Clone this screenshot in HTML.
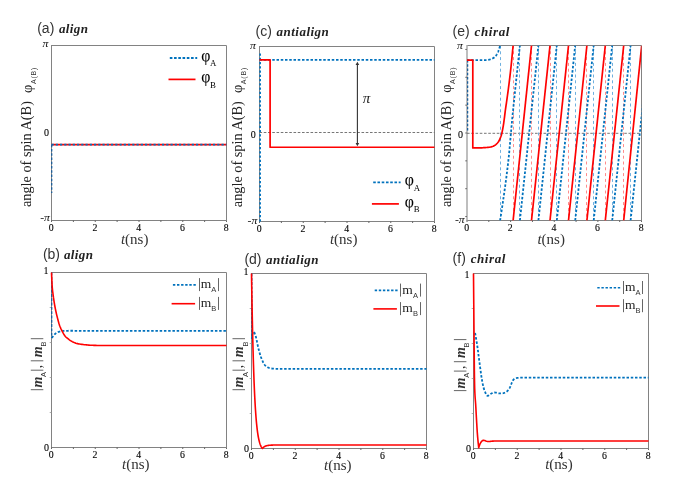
<!DOCTYPE html>
<html><head><meta charset="utf-8"><title>fig</title>
<style>html,body{margin:0;padding:0;background:#fff;}body{width:698px;height:485px;overflow:hidden;font-family:"Liberation Serif",serif;}svg{display:block;will-change:transform;opacity:0.999;}</style>
</head><body>
<svg width="698" height="485" viewBox="0 0 698 485">
<rect width="698" height="485" fill="#fff"/>
<text x="37.2" y="32.8" font-family="Liberation Sans, sans-serif" font-size="14" fill="#333">(a)</text>
<text x="58.9" y="32.8" font-family="Liberation Serif, serif" font-weight="bold" font-style="italic" font-size="13" fill="#222" textLength="29" lengthAdjust="spacing">align</text>
<path d="M51.5,220.5 H226.5 V45.5 H51.5" fill="none" stroke="#828282" stroke-width="1"/>
<line x1="51.5" y1="45.0" x2="51.5" y2="221.0" stroke="#828282" stroke-width="1"/>
<line x1="51.50" y1="220.5" x2="51.50" y2="222.0" stroke="#555" stroke-width="0.9"/>
<line x1="73.38" y1="220.5" x2="73.38" y2="222.0" stroke="#555" stroke-width="0.9"/>
<line x1="95.25" y1="220.5" x2="95.25" y2="222.0" stroke="#555" stroke-width="0.9"/>
<line x1="117.12" y1="220.5" x2="117.12" y2="222.0" stroke="#555" stroke-width="0.9"/>
<line x1="139.00" y1="220.5" x2="139.00" y2="222.0" stroke="#555" stroke-width="0.9"/>
<line x1="160.88" y1="220.5" x2="160.88" y2="222.0" stroke="#555" stroke-width="0.9"/>
<line x1="182.75" y1="220.5" x2="182.75" y2="222.0" stroke="#555" stroke-width="0.9"/>
<line x1="204.62" y1="220.5" x2="204.62" y2="222.0" stroke="#555" stroke-width="0.9"/>
<line x1="226.50" y1="220.5" x2="226.50" y2="222.0" stroke="#555" stroke-width="0.9"/>
<text x="51.10" y="230.5" font-family="Liberation Serif, serif" font-size="9.8" text-anchor="middle" fill="#000" stroke="#000" stroke-width="0.12">0</text>
<text x="94.85" y="230.5" font-family="Liberation Serif, serif" font-size="9.8" text-anchor="middle" fill="#000" stroke="#000" stroke-width="0.12">2</text>
<text x="138.60" y="230.5" font-family="Liberation Serif, serif" font-size="9.8" text-anchor="middle" fill="#000" stroke="#000" stroke-width="0.12">4</text>
<text x="182.35" y="230.5" font-family="Liberation Serif, serif" font-size="9.8" text-anchor="middle" fill="#000" stroke="#000" stroke-width="0.12">6</text>
<text x="226.10" y="230.5" font-family="Liberation Serif, serif" font-size="9.8" text-anchor="middle" fill="#000" stroke="#000" stroke-width="0.12">8</text>
<text x="48.5" y="47.0" font-family="Liberation Serif, serif" font-size="10" font-style="italic" text-anchor="end" fill="#111" textLength="5.9" lengthAdjust="spacingAndGlyphs">π</text>
<text x="50.0" y="221.0" font-family="Liberation Serif, serif" font-size="10" font-style="italic" text-anchor="end" fill="#111" textLength="9.8" lengthAdjust="spacingAndGlyphs">-π</text>
<text x="48.9" y="135.5" font-family="Liberation Serif, serif" font-size="10" text-anchor="end" fill="#000" stroke="#000" stroke-width="0.1">0</text>
<polyline points="51.50,144.70 226.50,144.70" fill="none" stroke="#FF0000" stroke-width="1.7" stroke-linejoin="round" />
<polyline points="51.70,144.70 51.70,193.00" fill="none" stroke="#1b5e9a" stroke-width="1.3" stroke-dasharray="2.5 1.75" stroke-linejoin="round" />
<polyline points="51.50,144.70 226.50,144.70" fill="none" stroke="#0072BD" stroke-width="1.8" stroke-dasharray="2.2 2.05" stroke-linejoin="round" />
<text x="120.9" y="243.6" font-family="Liberation Serif, serif" font-size="15" fill="#333"><tspan font-style="italic">t</tspan>(ns)</text>
<g transform="translate(31.4,207.1) rotate(-90)"><text x="0" y="0" font-family="Liberation Serif, serif" font-size="14.3" fill="#222" textLength="106" lengthAdjust="spacingAndGlyphs">angle of spin A(B)</text><text x="114.2" y="0.5" font-family="Liberation Serif, serif" font-size="14.5" fill="#222">φ</text><text x="123" y="4.3" font-family="Liberation Sans, sans-serif" font-size="7" fill="#333" textLength="16.5" lengthAdjust="spacing">A(B)</text></g>
<line x1="169.8" y1="58" x2="197.2" y2="58" stroke="#0072BD" stroke-width="1.8" stroke-dasharray="2.6 1.65"/>
<line x1="168.5" y1="79.4" x2="195.5" y2="79.4" stroke="#FF0000" stroke-width="1.7"/>
<text x="201.2" y="61.0" font-family="Liberation Serif, serif" font-size="15.8" fill="#000" stroke="#000" stroke-width="0.1">φ<tspan font-size="8.8" dy="5.2" dx="-0.3" stroke="none">A</tspan></text>
<text x="201.2" y="82.4" font-family="Liberation Serif, serif" font-size="15.8" fill="#000" stroke="#000" stroke-width="0.1">φ<tspan font-size="8.8" dy="5.2" dx="-0.3" stroke="none">B</tspan></text>
<text x="255.5" y="35.8" font-family="Liberation Sans, sans-serif" font-size="14" fill="#333">(c)</text>
<text x="276.5" y="35.8" font-family="Liberation Serif, serif" font-weight="bold" font-style="italic" font-size="13" fill="#222" textLength="52.3" lengthAdjust="spacing">antialign</text>
<path d="M259.5,221.5 H434.5 V46.5 H259.5" fill="none" stroke="#828282" stroke-width="1"/>
<line x1="259.5" y1="46.0" x2="259.5" y2="222.0" stroke="#828282" stroke-width="1"/>
<line x1="259.50" y1="221.5" x2="259.50" y2="223.0" stroke="#555" stroke-width="0.9"/>
<line x1="281.38" y1="221.5" x2="281.38" y2="223.0" stroke="#555" stroke-width="0.9"/>
<line x1="303.25" y1="221.5" x2="303.25" y2="223.0" stroke="#555" stroke-width="0.9"/>
<line x1="325.12" y1="221.5" x2="325.12" y2="223.0" stroke="#555" stroke-width="0.9"/>
<line x1="347.00" y1="221.5" x2="347.00" y2="223.0" stroke="#555" stroke-width="0.9"/>
<line x1="368.88" y1="221.5" x2="368.88" y2="223.0" stroke="#555" stroke-width="0.9"/>
<line x1="390.75" y1="221.5" x2="390.75" y2="223.0" stroke="#555" stroke-width="0.9"/>
<line x1="412.62" y1="221.5" x2="412.62" y2="223.0" stroke="#555" stroke-width="0.9"/>
<line x1="434.50" y1="221.5" x2="434.50" y2="223.0" stroke="#555" stroke-width="0.9"/>
<text x="259.10" y="231.5" font-family="Liberation Serif, serif" font-size="9.8" text-anchor="middle" fill="#000" stroke="#000" stroke-width="0.12">0</text>
<text x="302.85" y="231.5" font-family="Liberation Serif, serif" font-size="9.8" text-anchor="middle" fill="#000" stroke="#000" stroke-width="0.12">2</text>
<text x="346.60" y="231.5" font-family="Liberation Serif, serif" font-size="9.8" text-anchor="middle" fill="#000" stroke="#000" stroke-width="0.12">4</text>
<text x="390.35" y="231.5" font-family="Liberation Serif, serif" font-size="9.8" text-anchor="middle" fill="#000" stroke="#000" stroke-width="0.12">6</text>
<text x="434.10" y="231.5" font-family="Liberation Serif, serif" font-size="9.8" text-anchor="middle" fill="#000" stroke="#000" stroke-width="0.12">8</text>
<text x="255.9" y="49.1" font-family="Liberation Serif, serif" font-size="10" font-style="italic" text-anchor="end" fill="#111" textLength="5.9" lengthAdjust="spacingAndGlyphs">π</text>
<text x="257.3" y="223.6" font-family="Liberation Serif, serif" font-size="10" font-style="italic" text-anchor="end" fill="#111" textLength="9.8" lengthAdjust="spacingAndGlyphs">-π</text>
<text x="255.79999999999998" y="138.4" font-family="Liberation Serif, serif" font-size="10" text-anchor="end" fill="#000" stroke="#000" stroke-width="0.1">0</text>
<line x1="259.5" y1="132.5" x2="434.5" y2="132.5" stroke="#666" stroke-width="0.9" stroke-dasharray="2.6 1.65"/>
<polyline points="260.10,221.50 260.10,53.00" fill="none" stroke="#0072BD" stroke-width="1.7" stroke-dasharray="2.15 2.1" stroke-linejoin="round" />
<polyline points="259.50,59.90 434.50,59.90" fill="none" stroke="#0072BD" stroke-width="1.8" stroke-dasharray="2.5 1.75" stroke-linejoin="round" />
<polyline points="259.50,59.90 270.10,59.90 270.10,147.25 434.50,147.25" fill="none" stroke="#FF0000" stroke-width="1.7" stroke-linejoin="round" stroke-linejoin="miter"/>
<text x="329.9" y="244" font-family="Liberation Serif, serif" font-size="15" fill="#333"><tspan font-style="italic">t</tspan>(ns)</text>
<g transform="translate(241.5,207.2) rotate(-90)"><text x="0" y="0" font-family="Liberation Serif, serif" font-size="14.3" fill="#222" textLength="106" lengthAdjust="spacingAndGlyphs">angle of spin A(B)</text><text x="114.2" y="0.5" font-family="Liberation Serif, serif" font-size="14.5" fill="#222">φ</text><text x="123" y="4.3" font-family="Liberation Sans, sans-serif" font-size="7" fill="#333" textLength="16.5" lengthAdjust="spacing">A(B)</text></g>
<line x1="373.2" y1="182.3" x2="400.59999999999997" y2="182.3" stroke="#0072BD" stroke-width="1.8" stroke-dasharray="2.6 1.65"/>
<line x1="371.9" y1="203.9" x2="398.9" y2="203.9" stroke="#FF0000" stroke-width="1.7"/>
<text x="404.8" y="185.3" font-family="Liberation Serif, serif" font-size="15.8" fill="#000" stroke="#000" stroke-width="0.1">φ<tspan font-size="8.8" dy="5.2" dx="-0.3" stroke="none">A</tspan></text>
<text x="404.8" y="206.9" font-family="Liberation Serif, serif" font-size="15.8" fill="#000" stroke="#000" stroke-width="0.1">φ<tspan font-size="8.8" dy="5.2" dx="-0.3" stroke="none">B</tspan></text>
<line x1="357.4" y1="63.5" x2="357.4" y2="144.5" stroke="#333" stroke-width="1.1"/>
<path d="M357.4,61.8 L355.6,65 L359.2,65 Z" fill="#333"/>
<path d="M357.4,146.2 L355.6,143 L359.2,143 Z" fill="#333"/>
<text x="362.8" y="102.8" font-family="Liberation Serif, serif" font-size="15" font-style="italic" fill="#222">π</text>
<text x="452.59999999999997" y="36.1" font-family="Liberation Sans, sans-serif" font-size="14" fill="#333">(e)</text>
<text x="474.6" y="36.1" font-family="Liberation Serif, serif" font-weight="bold" font-style="italic" font-size="13" fill="#222" textLength="34.8" lengthAdjust="spacing">chiral</text>
<path d="M467,220.5 H641.5 V45.5 H467" fill="none" stroke="#828282" stroke-width="1"/>
<line x1="467" y1="45.0" x2="467" y2="221.0" stroke="#a8a8a8" stroke-width="1.5"/>
<line x1="467.00" y1="220.5" x2="467.00" y2="222.0" stroke="#555" stroke-width="0.9"/>
<line x1="488.81" y1="220.5" x2="488.81" y2="222.0" stroke="#555" stroke-width="0.9"/>
<line x1="510.62" y1="220.5" x2="510.62" y2="222.0" stroke="#555" stroke-width="0.9"/>
<line x1="532.44" y1="220.5" x2="532.44" y2="222.0" stroke="#555" stroke-width="0.9"/>
<line x1="554.25" y1="220.5" x2="554.25" y2="222.0" stroke="#555" stroke-width="0.9"/>
<line x1="576.06" y1="220.5" x2="576.06" y2="222.0" stroke="#555" stroke-width="0.9"/>
<line x1="597.88" y1="220.5" x2="597.88" y2="222.0" stroke="#555" stroke-width="0.9"/>
<line x1="619.69" y1="220.5" x2="619.69" y2="222.0" stroke="#555" stroke-width="0.9"/>
<line x1="641.50" y1="220.5" x2="641.50" y2="222.0" stroke="#555" stroke-width="0.9"/>
<text x="466.60" y="230.5" font-family="Liberation Serif, serif" font-size="9.8" text-anchor="middle" fill="#000" stroke="#000" stroke-width="0.12">0</text>
<text x="510.23" y="230.5" font-family="Liberation Serif, serif" font-size="9.8" text-anchor="middle" fill="#000" stroke="#000" stroke-width="0.12">2</text>
<text x="553.85" y="230.5" font-family="Liberation Serif, serif" font-size="9.8" text-anchor="middle" fill="#000" stroke="#000" stroke-width="0.12">4</text>
<text x="597.48" y="230.5" font-family="Liberation Serif, serif" font-size="9.8" text-anchor="middle" fill="#000" stroke="#000" stroke-width="0.12">6</text>
<text x="641.10" y="230.5" font-family="Liberation Serif, serif" font-size="9.8" text-anchor="middle" fill="#000" stroke="#000" stroke-width="0.12">8</text>
<line x1="467" y1="216.56" x2="465.2" y2="216.56" stroke="#555" stroke-width="0.8"/>
<line x1="467" y1="188.70" x2="465.2" y2="188.70" stroke="#555" stroke-width="0.8"/>
<line x1="467" y1="160.85" x2="465.2" y2="160.85" stroke="#555" stroke-width="0.8"/>
<line x1="467" y1="133.00" x2="465.2" y2="133.00" stroke="#555" stroke-width="0.8"/>
<line x1="467" y1="105.15" x2="465.2" y2="105.15" stroke="#555" stroke-width="0.8"/>
<line x1="467" y1="77.30" x2="465.2" y2="77.30" stroke="#555" stroke-width="0.8"/>
<line x1="467" y1="49.44" x2="465.2" y2="49.44" stroke="#555" stroke-width="0.8"/>
<text x="463.0" y="48.5" font-family="Liberation Serif, serif" font-size="10" font-style="italic" text-anchor="end" fill="#111" textLength="5.9" lengthAdjust="spacingAndGlyphs">π</text>
<text x="464.7" y="222.7" font-family="Liberation Serif, serif" font-size="10" font-style="italic" text-anchor="end" fill="#111" textLength="9.8" lengthAdjust="spacingAndGlyphs">-π</text>
<text x="463.0" y="137.8" font-family="Liberation Serif, serif" font-size="10" text-anchor="end" fill="#000" stroke="#000" stroke-width="0.1">0</text>
<clipPath id="ce"><rect x="467" y="45.5" width="174.5" height="175.0"/></clipPath>
<g clip-path="url(#ce)">
<line x1="467" y1="133.3" x2="641.5" y2="133.3" stroke="#666" stroke-width="0.9" stroke-dasharray="2.6 1.65"/>
<line x1="513.5" y1="45.5" x2="513.5" y2="220.5" stroke="#ff8c8c" stroke-width="1" stroke-dasharray="3 2.8"/>
<line x1="531.5" y1="45.5" x2="531.5" y2="220.5" stroke="#ff8c8c" stroke-width="1" stroke-dasharray="3 2.8"/>
<line x1="550.5" y1="45.5" x2="550.5" y2="220.5" stroke="#ff8c8c" stroke-width="1" stroke-dasharray="3 2.8"/>
<line x1="568.5" y1="45.5" x2="568.5" y2="220.5" stroke="#ff8c8c" stroke-width="1" stroke-dasharray="3 2.8"/>
<line x1="586.5" y1="45.5" x2="586.5" y2="220.5" stroke="#ff8c8c" stroke-width="1" stroke-dasharray="3 2.8"/>
<line x1="605.5" y1="45.5" x2="605.5" y2="220.5" stroke="#ff8c8c" stroke-width="1" stroke-dasharray="3 2.8"/>
<line x1="623.5" y1="45.5" x2="623.5" y2="220.5" stroke="#ff8c8c" stroke-width="1" stroke-dasharray="3 2.8"/>
<line x1="500.5" y1="45.5" x2="500.5" y2="220.5" stroke="#6fb0df" stroke-width="1" stroke-dasharray="3 2.8"/>
<line x1="519.5" y1="45.5" x2="519.5" y2="220.5" stroke="#6fb0df" stroke-width="1" stroke-dasharray="3 2.8"/>
<line x1="538.5" y1="45.5" x2="538.5" y2="220.5" stroke="#6fb0df" stroke-width="1" stroke-dasharray="3 2.8"/>
<line x1="556.5" y1="45.5" x2="556.5" y2="220.5" stroke="#6fb0df" stroke-width="1" stroke-dasharray="3 2.8"/>
<line x1="575.5" y1="45.5" x2="575.5" y2="220.5" stroke="#6fb0df" stroke-width="1" stroke-dasharray="3 2.8"/>
<line x1="593.5" y1="45.5" x2="593.5" y2="220.5" stroke="#6fb0df" stroke-width="1" stroke-dasharray="3 2.8"/>
<line x1="612.5" y1="45.5" x2="612.5" y2="220.5" stroke="#6fb0df" stroke-width="1" stroke-dasharray="3 2.8"/>
<line x1="630.5" y1="45.5" x2="630.5" y2="220.5" stroke="#6fb0df" stroke-width="1" stroke-dasharray="3 2.8"/>
<polyline points="467.60,60.10 467.60,131.00" fill="none" stroke="#1b5e9a" stroke-width="1.3" stroke-dasharray="2.5 1.75" stroke-linejoin="round" />
<polyline points="467.00,60.10 487.00,60.10 487.28,60.04 487.64,59.96 488.07,59.87 488.56,59.77 489.07,59.65 489.59,59.52 490.11,59.37 490.60,59.20 491.08,59.02 491.58,58.83 492.10,58.63 492.61,58.41 493.12,58.17 493.61,57.90 494.07,57.62 494.50,57.30 494.89,56.95 495.26,56.57 495.61,56.16 495.94,55.72 496.25,55.28 496.54,54.82 496.83,54.36 497.10,53.90 497.36,53.44 497.60,52.97 497.82,52.50 498.03,52.02 498.23,51.53 498.42,51.03 498.61,50.52 498.80,50.00 498.99,49.44 499.18,48.81 499.37,48.16 499.56,47.51 499.73,46.88 499.88,46.32 500.00,45.85 500.10,45.50" fill="none" stroke="#0072BD" stroke-width="1.8" stroke-dasharray="2.5 1.75" stroke-linejoin="round" />
<polyline points="500.10,220.50 500.34,218.92 500.66,216.80 501.05,214.29 501.48,211.50 501.92,208.55 502.37,205.57 502.81,202.68 503.20,200.00 503.56,197.50 503.92,195.04 504.27,192.60 504.62,190.16 504.97,187.70 505.31,185.20 505.65,182.64 506.00,180.00 506.35,177.27 506.71,174.48 507.06,171.62 507.42,168.72 507.76,165.80 508.11,162.86 508.44,159.92 508.75,157.00 509.05,154.04 509.34,151.02 509.62,147.97 509.89,144.91 510.15,141.90 510.41,138.95 510.66,136.11 510.90,133.40 511.12,130.93 511.32,128.71 511.51,126.63 511.69,124.60 511.88,122.52 512.09,120.29 512.32,117.82 512.60,115.00 512.91,111.87 513.25,108.54 513.61,105.02 513.99,101.32 514.40,97.46 514.81,93.44 515.25,89.28 515.70,85.00 516.20,80.25 516.77,74.87 517.38,69.15 517.99,63.38 518.58,57.84 519.12,52.82 519.57,48.61 519.90,45.50" fill="none" stroke="#0072BD" stroke-width="1.8" stroke-dasharray="2.5 1.75" stroke-linejoin="round" />
<polyline points="519.90,220.50 538.40,45.50" fill="none" stroke="#0072BD" stroke-width="1.8" stroke-dasharray="2.5 1.75" stroke-linejoin="round" />
<polyline points="538.40,220.50 556.80,45.50" fill="none" stroke="#0072BD" stroke-width="1.8" stroke-dasharray="2.5 1.75" stroke-linejoin="round" />
<polyline points="556.80,220.50 575.20,45.50" fill="none" stroke="#0072BD" stroke-width="1.8" stroke-dasharray="2.5 1.75" stroke-linejoin="round" />
<polyline points="575.20,220.50 593.70,45.50" fill="none" stroke="#0072BD" stroke-width="1.8" stroke-dasharray="2.5 1.75" stroke-linejoin="round" />
<polyline points="593.70,220.50 612.20,45.50" fill="none" stroke="#0072BD" stroke-width="1.8" stroke-dasharray="2.5 1.75" stroke-linejoin="round" />
<polyline points="612.20,220.50 630.60,45.50" fill="none" stroke="#0072BD" stroke-width="1.8" stroke-dasharray="2.5 1.75" stroke-linejoin="round" />
<polyline points="630.60,220.50 649.05,45.50" fill="none" stroke="#0072BD" stroke-width="1.8" stroke-dasharray="2.5 1.75" stroke-linejoin="round" />
<polyline points="467.00,60.10 472.80,60.10 472.80,147.90 473.20,147.90 473.72,147.89 474.35,147.89 475.05,147.88 475.79,147.88 476.55,147.87 477.30,147.86 478.00,147.85 478.67,147.84 479.34,147.83 480.01,147.83 480.69,147.82 481.38,147.80 482.09,147.78 482.83,147.75 483.60,147.70 484.43,147.65 485.31,147.59 486.24,147.52 487.18,147.45 488.11,147.36 489.01,147.26 489.84,147.14 490.60,147.00 491.27,146.85 491.88,146.69 492.45,146.51 492.97,146.32 493.46,146.11 493.94,145.88 494.42,145.61 494.90,145.30 495.39,144.95 495.86,144.57 496.33,144.15 496.79,143.71 497.23,143.25 497.64,142.77 498.03,142.29 498.40,141.80 498.73,141.30 499.04,140.78 499.33,140.24 499.59,139.69 499.83,139.13 500.06,138.58 500.29,138.03 500.50,137.50 500.70,137.00 500.88,136.53 501.04,136.08 501.19,135.62 501.34,135.15 501.49,134.63 501.64,134.05 501.80,133.40 501.97,132.65 502.15,131.83 502.34,130.94 502.52,130.02 502.70,129.07 502.88,128.12 503.04,127.19 503.20,126.30 503.34,125.45 503.47,124.64 503.60,123.85 503.71,123.05 503.83,122.23 503.95,121.38 504.07,120.48 504.20,119.50 504.34,118.44 504.48,117.30 504.63,116.11 504.78,114.89 504.93,113.64 505.09,112.40 505.24,111.18 505.40,110.00 505.55,108.91 505.69,107.90 505.84,106.94 505.98,105.97 506.13,104.94 506.30,103.80 506.49,102.50 506.70,101.00 506.94,99.26 507.21,97.34 507.50,95.25 507.80,93.06 508.11,90.80 508.42,88.51 508.72,86.23 509.00,84.00 509.27,81.81 509.54,79.63 509.81,77.43 510.07,75.22 510.33,72.98 510.59,70.70 510.84,68.38 511.10,66.00 511.37,63.42 511.65,60.57 511.95,57.59 512.23,54.62 512.50,51.80 512.74,49.24 512.95,47.10 513.10,45.50" fill="none" stroke="#FF0000" stroke-width="1.7" stroke-linejoin="round" stroke-linejoin="miter"/>
<polyline points="513.10,220.50 531.50,45.50" fill="none" stroke="#FF0000" stroke-width="1.7" stroke-linejoin="round" />
<polyline points="531.50,220.50 550.00,45.50" fill="none" stroke="#FF0000" stroke-width="1.7" stroke-linejoin="round" />
<polyline points="550.00,220.50 568.50,45.50" fill="none" stroke="#FF0000" stroke-width="1.7" stroke-linejoin="round" />
<polyline points="568.50,220.50 586.90,45.50" fill="none" stroke="#FF0000" stroke-width="1.7" stroke-linejoin="round" />
<polyline points="586.90,220.50 605.30,45.50" fill="none" stroke="#FF0000" stroke-width="1.7" stroke-linejoin="round" />
<polyline points="605.30,220.50 623.70,45.50" fill="none" stroke="#FF0000" stroke-width="1.7" stroke-linejoin="round" />
<polyline points="623.70,220.50 641.70,45.50" fill="none" stroke="#FF0000" stroke-width="1.7" stroke-linejoin="round" />
</g>
<text x="537.4" y="243.7" font-family="Liberation Serif, serif" font-size="15" fill="#333"><tspan font-style="italic">t</tspan>(ns)</text>
<g transform="translate(450.7,207) rotate(-90)"><text x="0" y="0" font-family="Liberation Serif, serif" font-size="14.3" fill="#222" textLength="106" lengthAdjust="spacingAndGlyphs">angle of spin A(B)</text><text x="114.2" y="0.5" font-family="Liberation Serif, serif" font-size="14.5" fill="#222">φ</text><text x="123" y="4.3" font-family="Liberation Sans, sans-serif" font-size="7" fill="#333" textLength="16.5" lengthAdjust="spacing">A(B)</text></g>
<text x="42.900000000000006" y="259" font-family="Liberation Sans, sans-serif" font-size="14" fill="#333">(b)</text>
<text x="63.9" y="259" font-family="Liberation Serif, serif" font-weight="bold" font-style="italic" font-size="13" fill="#222" textLength="29" lengthAdjust="spacing">align</text>
<path d="M51.5,447.5 H226.5 V272.5 H51.5" fill="none" stroke="#828282" stroke-width="1"/>
<line x1="51.5" y1="272.0" x2="51.5" y2="448.0" stroke="#828282" stroke-width="1"/>
<line x1="51.50" y1="447.5" x2="51.50" y2="449.0" stroke="#555" stroke-width="0.9"/>
<line x1="73.38" y1="447.5" x2="73.38" y2="449.0" stroke="#555" stroke-width="0.9"/>
<line x1="95.25" y1="447.5" x2="95.25" y2="449.0" stroke="#555" stroke-width="0.9"/>
<line x1="117.12" y1="447.5" x2="117.12" y2="449.0" stroke="#555" stroke-width="0.9"/>
<line x1="139.00" y1="447.5" x2="139.00" y2="449.0" stroke="#555" stroke-width="0.9"/>
<line x1="160.88" y1="447.5" x2="160.88" y2="449.0" stroke="#555" stroke-width="0.9"/>
<line x1="182.75" y1="447.5" x2="182.75" y2="449.0" stroke="#555" stroke-width="0.9"/>
<line x1="204.62" y1="447.5" x2="204.62" y2="449.0" stroke="#555" stroke-width="0.9"/>
<line x1="226.50" y1="447.5" x2="226.50" y2="449.0" stroke="#555" stroke-width="0.9"/>
<text x="51.10" y="457.5" font-family="Liberation Serif, serif" font-size="9.8" text-anchor="middle" fill="#000" stroke="#000" stroke-width="0.12">0</text>
<text x="94.85" y="457.5" font-family="Liberation Serif, serif" font-size="9.8" text-anchor="middle" fill="#000" stroke="#000" stroke-width="0.12">2</text>
<text x="138.60" y="457.5" font-family="Liberation Serif, serif" font-size="9.8" text-anchor="middle" fill="#000" stroke="#000" stroke-width="0.12">4</text>
<text x="182.35" y="457.5" font-family="Liberation Serif, serif" font-size="9.8" text-anchor="middle" fill="#000" stroke="#000" stroke-width="0.12">6</text>
<text x="226.10" y="457.5" font-family="Liberation Serif, serif" font-size="9.8" text-anchor="middle" fill="#000" stroke="#000" stroke-width="0.12">8</text>
<line x1="51.5" y1="412.50" x2="49.7" y2="412.50" stroke="#999" stroke-width="0.8"/>
<line x1="51.5" y1="377.50" x2="49.7" y2="377.50" stroke="#999" stroke-width="0.8"/>
<line x1="51.5" y1="342.50" x2="49.7" y2="342.50" stroke="#999" stroke-width="0.8"/>
<line x1="51.5" y1="307.50" x2="49.7" y2="307.50" stroke="#999" stroke-width="0.8"/>
<text x="48.4" y="274.3" font-family="Liberation Serif, serif" font-size="10" text-anchor="end" fill="#000" stroke="#000" stroke-width="0.1">1</text>
<text x="49.0" y="450.5" font-family="Liberation Serif, serif" font-size="10" text-anchor="end" fill="#000" stroke="#000" stroke-width="0.1">0</text>
<polyline points="51.70,272.50 51.70,338.00" fill="none" stroke="#1b5e9a" stroke-width="1.3" stroke-dasharray="2.9 1.4" stroke-linejoin="round" />
<polyline points="51.80,338.00 51.96,337.76 52.18,337.45 52.43,337.07 52.71,336.65 53.02,336.21 53.34,335.78 53.67,335.37 54.00,335.00 54.33,334.66 54.67,334.33 55.02,334.01 55.39,333.69 55.77,333.39 56.16,333.11 56.57,332.84 57.00,332.60 57.44,332.38 57.89,332.18 58.36,332.00 58.84,331.83 59.34,331.68 59.86,331.54 60.42,331.42 61.00,331.30 61.57,331.20 62.10,331.11 62.64,331.03 63.21,330.97 63.86,330.92 64.61,330.87 65.52,330.83 66.60,330.80 67.99,330.78 69.72,330.76 71.64,330.76 73.65,330.77 75.61,330.78 77.41,330.79 78.91,330.80 80.00,330.80 226.50,330.80" fill="none" stroke="#0072BD" stroke-width="1.8" stroke-dasharray="2.5 1.75" stroke-linejoin="round" />
<polyline points="51.50,272.50 51.55,273.63 51.62,275.19 51.71,277.05 51.80,279.09 51.90,281.18 52.00,283.22 52.10,285.06 52.20,286.60 52.29,287.85 52.39,288.94 52.49,289.91 52.59,290.78 52.69,291.59 52.79,292.38 52.89,293.17 53.00,294.00 53.11,294.84 53.21,295.65 53.32,296.44 53.42,297.22 53.54,297.99 53.65,298.77 53.77,299.57 53.90,300.40 54.03,301.26 54.17,302.14 54.32,303.03 54.47,303.94 54.62,304.84 54.78,305.74 54.94,306.63 55.10,307.50 55.26,308.35 55.43,309.20 55.61,310.04 55.78,310.88 55.96,311.70 56.14,312.51 56.32,313.31 56.50,314.10 56.68,314.88 56.87,315.65 57.06,316.41 57.25,317.16 57.44,317.89 57.63,318.61 57.82,319.32 58.00,320.00 58.18,320.67 58.36,321.33 58.53,321.97 58.71,322.60 58.88,323.21 59.05,323.80 59.23,324.36 59.40,324.90 59.57,325.41 59.75,325.89 59.92,326.34 60.09,326.77 60.27,327.19 60.44,327.59 60.62,328.00 60.80,328.40 60.98,328.80 61.17,329.19 61.36,329.57 61.54,329.94 61.73,330.31 61.92,330.68 62.11,331.04 62.30,331.40 62.49,331.77 62.68,332.13 62.87,332.50 63.06,332.86 63.24,333.22 63.43,333.56 63.62,333.89 63.80,334.20 63.98,334.49 64.16,334.77 64.33,335.03 64.51,335.29 64.68,335.53 64.85,335.76 65.03,335.98 65.20,336.20 65.35,336.39 65.48,336.55 65.59,336.69 65.71,336.82 65.86,336.96 66.04,337.13 66.28,337.34 66.60,337.60 67.00,337.93 67.46,338.31 67.97,338.73 68.53,339.18 69.12,339.64 69.74,340.09 70.37,340.51 71.00,340.90 71.63,341.26 72.26,341.61 72.91,341.94 73.58,342.27 74.29,342.58 75.03,342.87 75.84,343.15 76.70,343.40 77.63,343.63 78.63,343.85 79.68,344.04 80.78,344.22 81.90,344.38 83.06,344.53 84.23,344.67 85.40,344.80 86.57,344.92 87.72,345.02 88.89,345.11 90.09,345.18 91.33,345.25 92.63,345.30 94.02,345.35 95.50,345.40 97.20,345.44 99.16,345.46 101.25,345.48 103.38,345.49 105.43,345.49 107.29,345.49 108.85,345.50 110.00,345.50 226.50,345.50" fill="none" stroke="#FF0000" stroke-width="1.6" stroke-linejoin="round" />
<text x="122.1" y="469.4" font-family="Liberation Serif, serif" font-size="15" fill="#333"><tspan font-style="italic">t</tspan>(ns)</text>
<g transform="translate(41.5,389.7) rotate(-90)"><line x1="0" y1="-10.7" x2="0" y2="1.8" stroke="#555" stroke-width="0.9"/><line x1="19.5" y1="-10.7" x2="19.5" y2="1.8" stroke="#555" stroke-width="0.9"/><line x1="28.9" y1="-10.7" x2="28.9" y2="1.8" stroke="#555" stroke-width="0.9"/><line x1="51" y1="-10.7" x2="51" y2="1.8" stroke="#555" stroke-width="0.9"/><text x="2.2" y="0" font-family="Liberation Serif, serif" font-size="14" font-style="italic" font-weight="bold" fill="#333">m</text><text x="12.8" y="4.6" font-family="Liberation Sans, sans-serif" font-size="7.5" fill="#333">A</text><text x="32.5" y="0" font-family="Liberation Serif, serif" font-size="14" font-style="italic" font-weight="bold" fill="#333">m</text><text x="43.1" y="4.6" font-family="Liberation Sans, sans-serif" font-size="7.5" fill="#333">B</text><text x="21.5" y="0" font-family="Liberation Serif, serif" font-size="14" fill="#222">,</text></g>
<line x1="172.9" y1="284.9" x2="196.6" y2="284.9" stroke="#0072BD" stroke-width="1.6" stroke-dasharray="2.4 1.7"/>
<line x1="171.6" y1="303.7" x2="195.1" y2="303.7" stroke="#FF0000" stroke-width="1.6"/>
<line x1="199.5" y1="278.09999999999997" x2="199.5" y2="291.09999999999997" stroke="#555" stroke-width="0.9"/>
<line x1="218.5" y1="278.09999999999997" x2="218.5" y2="291.09999999999997" stroke="#555" stroke-width="0.9"/>
<text x="200.8" y="288.09999999999997" font-family="Liberation Serif, serif" font-size="13.5" fill="#222">m</text>
<text x="211.3" y="292.29999999999995" font-family="Liberation Sans, sans-serif" font-size="7.5" fill="#333">A</text>
<line x1="199.5" y1="296.9" x2="199.5" y2="309.9" stroke="#555" stroke-width="0.9"/>
<line x1="218.5" y1="296.9" x2="218.5" y2="309.9" stroke="#555" stroke-width="0.9"/>
<text x="200.8" y="306.9" font-family="Liberation Serif, serif" font-size="13.5" fill="#222">m</text>
<text x="211.3" y="311.09999999999997" font-family="Liberation Sans, sans-serif" font-size="7.5" fill="#333">B</text>
<text x="244.39999999999998" y="264" font-family="Liberation Sans, sans-serif" font-size="14" fill="#333">(d)</text>
<text x="266.1" y="264" font-family="Liberation Serif, serif" font-weight="bold" font-style="italic" font-size="13" fill="#222" textLength="52.5" lengthAdjust="spacing">antialign</text>
<path d="M251.5,448.5 H426.5 V273.5 H251.5" fill="none" stroke="#828282" stroke-width="1"/>
<line x1="251.5" y1="273.0" x2="251.5" y2="449.0" stroke="#828282" stroke-width="1"/>
<line x1="251.50" y1="448.5" x2="251.50" y2="450.0" stroke="#555" stroke-width="0.9"/>
<line x1="273.38" y1="448.5" x2="273.38" y2="450.0" stroke="#555" stroke-width="0.9"/>
<line x1="295.25" y1="448.5" x2="295.25" y2="450.0" stroke="#555" stroke-width="0.9"/>
<line x1="317.12" y1="448.5" x2="317.12" y2="450.0" stroke="#555" stroke-width="0.9"/>
<line x1="339.00" y1="448.5" x2="339.00" y2="450.0" stroke="#555" stroke-width="0.9"/>
<line x1="360.88" y1="448.5" x2="360.88" y2="450.0" stroke="#555" stroke-width="0.9"/>
<line x1="382.75" y1="448.5" x2="382.75" y2="450.0" stroke="#555" stroke-width="0.9"/>
<line x1="404.62" y1="448.5" x2="404.62" y2="450.0" stroke="#555" stroke-width="0.9"/>
<line x1="426.50" y1="448.5" x2="426.50" y2="450.0" stroke="#555" stroke-width="0.9"/>
<text x="251.10" y="458.5" font-family="Liberation Serif, serif" font-size="9.8" text-anchor="middle" fill="#000" stroke="#000" stroke-width="0.12">0</text>
<text x="294.85" y="458.5" font-family="Liberation Serif, serif" font-size="9.8" text-anchor="middle" fill="#000" stroke="#000" stroke-width="0.12">2</text>
<text x="338.60" y="458.5" font-family="Liberation Serif, serif" font-size="9.8" text-anchor="middle" fill="#000" stroke="#000" stroke-width="0.12">4</text>
<text x="382.35" y="458.5" font-family="Liberation Serif, serif" font-size="9.8" text-anchor="middle" fill="#000" stroke="#000" stroke-width="0.12">6</text>
<text x="426.10" y="458.5" font-family="Liberation Serif, serif" font-size="9.8" text-anchor="middle" fill="#000" stroke="#000" stroke-width="0.12">8</text>
<line x1="251.5" y1="413.50" x2="249.7" y2="413.50" stroke="#999" stroke-width="0.8"/>
<line x1="251.5" y1="378.50" x2="249.7" y2="378.50" stroke="#999" stroke-width="0.8"/>
<line x1="251.5" y1="343.50" x2="249.7" y2="343.50" stroke="#999" stroke-width="0.8"/>
<line x1="251.5" y1="308.50" x2="249.7" y2="308.50" stroke="#999" stroke-width="0.8"/>
<text x="248.4" y="275.3" font-family="Liberation Serif, serif" font-size="10" text-anchor="end" fill="#000" stroke="#000" stroke-width="0.1">1</text>
<text x="249.0" y="451.5" font-family="Liberation Serif, serif" font-size="10" text-anchor="end" fill="#000" stroke="#000" stroke-width="0.1">0</text>
<polyline points="251.80,273.50 251.80,339.00" fill="none" stroke="#1b5e9a" stroke-width="1.3" stroke-dasharray="2.9 1.4" stroke-linejoin="round" />
<polyline points="251.80,339.00 251.84,338.64 251.88,338.14 251.93,337.55 251.99,336.91 252.06,336.24 252.14,335.59 252.21,335.00 252.30,334.50 252.39,334.08 252.50,333.68 252.61,333.31 252.73,332.97 252.85,332.67 252.97,332.41 253.09,332.18 253.20,332.00 253.30,331.85 253.39,331.72 253.48,331.62 253.56,331.57 253.65,331.56 253.75,331.61 253.87,331.72 254.00,331.90 254.16,332.17 254.34,332.53 254.53,332.97 254.74,333.45 254.94,333.97 255.14,334.49 255.33,335.01 255.50,335.50 255.65,335.97 255.79,336.44 255.92,336.92 256.04,337.40 256.15,337.89 256.27,338.38 256.38,338.89 256.50,339.40 256.62,339.93 256.73,340.47 256.84,341.03 256.96,341.59 257.07,342.15 257.18,342.71 257.29,343.26 257.40,343.80 257.51,344.33 257.62,344.85 257.73,345.36 257.84,345.87 257.95,346.38 258.06,346.88 258.18,347.39 258.30,347.90 258.43,348.41 258.56,348.93 258.70,349.45 258.84,349.97 258.98,350.48 259.12,351.00 259.26,351.50 259.40,352.00 259.53,352.49 259.67,352.97 259.79,353.44 259.92,353.91 260.06,354.38 260.20,354.85 260.34,355.32 260.50,355.80 260.67,356.28 260.84,356.77 261.02,357.25 261.20,357.74 261.39,358.23 261.59,358.72 261.79,359.21 262.00,359.70 262.21,360.20 262.43,360.72 262.65,361.24 262.88,361.76 263.11,362.27 263.36,362.77 263.62,363.25 263.90,363.70 264.19,364.13 264.49,364.55 264.80,364.96 265.12,365.35 265.46,365.72 265.81,366.07 266.19,366.40 266.60,366.70 267.04,366.97 267.50,367.22 267.99,367.45 268.49,367.66 269.01,367.84 269.54,368.01 270.07,368.16 270.60,368.30 271.16,368.42 271.78,368.51 272.41,368.59 273.05,368.65 273.65,368.70 274.20,368.74 274.66,368.77 275.00,368.80 426.50,368.80" fill="none" stroke="#0072BD" stroke-width="1.8" stroke-dasharray="2.5 1.75" stroke-linejoin="round" />
<polyline points="251.50,273.50 251.72,287.12 251.94,299.70 252.16,311.32 252.38,322.05 252.59,331.97 252.81,341.13 253.03,349.59 253.25,357.40 253.47,364.62 253.69,371.28 253.91,377.44 254.12,383.13 254.34,388.39 254.56,393.24 254.78,397.72 255.00,401.86 255.22,405.69 255.44,409.22 255.66,412.49 255.88,415.50 256.09,418.29 256.31,420.86 256.53,423.23 256.75,425.43 256.97,427.46 257.19,429.33 257.41,431.06 257.62,432.66 257.84,434.13 258.06,435.50 258.28,436.75 258.50,437.92 258.72,438.99 258.94,439.98 259.16,440.90 259.38,441.75 259.59,442.53 259.81,443.25 260.03,443.92 260.25,444.54 260.47,445.11 260.69,445.63 260.91,446.12 261.12,446.57 261.34,446.98 261.56,447.36 261.78,447.72 262.00,448.04 262.22,448.35 262.44,448.37 262.66,448.12 262.88,447.88 263.09,447.66 263.31,447.46 263.53,447.27 263.75,447.10 263.97,446.94 264.19,446.79 264.41,446.65 264.62,446.53 264.84,446.41 265.06,446.30 265.28,446.20 265.50,446.11 265.72,446.03 265.94,445.95 266.16,445.88 266.38,445.81 266.59,445.75 266.81,445.69 267.03,445.64 267.25,445.59 267.47,445.54 267.69,445.50 267.91,445.46 268.12,445.43 268.34,445.40 268.56,445.37 268.78,445.34 269.00,445.31 269.22,445.29 269.44,445.27 269.66,445.25 269.88,445.23 270.09,445.21 270.31,445.19 270.53,445.18 270.75,445.17 270.97,445.15 271.19,445.14 271.41,445.13 271.62,445.12 271.84,445.11 272.06,445.10 272.28,445.09 272.50,445.09 272.72,445.08 272.94,445.07 273.16,445.07 273.38,445.06 273.59,445.06 273.81,445.05 274.03,445.05 274.25,445.05 274.47,445.04 274.69,445.04 274.91,445.04 275.12,445.03 275.34,445.03 275.56,445.03 275.78,445.03 276.00,445.02 276.22,445.02 276.44,445.02 276.66,445.02 276.88,445.02 277.09,445.02 277.31,445.02 277.53,445.01 277.75,445.01 277.97,445.01 278.19,445.01 278.41,445.01 278.62,445.01 278.84,445.01 279.06,445.01 279.28,445.01 279.50,445.01 279.72,445.01 279.94,445.01 280.16,445.01 280.38,445.01 280.59,445.00 280.81,445.00 281.03,445.00 281.25,445.00 281.47,445.00 281.69,445.00 281.91,445.00 282.12,445.00 282.34,445.00 282.56,445.00 282.78,445.00 283.00,445.00 283.22,445.00 283.44,445.00 283.66,445.00 283.88,445.00 284.09,445.00 284.31,445.00 284.53,445.00 284.75,445.00 284.97,445.00 285.19,445.00 285.41,445.00 285.62,445.00 285.84,445.00 286.06,445.00 286.28,445.00 286.50,445.00 286.72,445.00 286.94,445.00 287.16,445.00 287.38,445.00 287.59,445.00 287.81,445.00 288.03,445.00 288.25,445.00 288.47,445.00 288.69,445.00 288.91,445.00 289.12,445.00 289.34,445.00 289.56,445.00 289.78,445.00 290.00,445.00 290.22,445.00 290.44,445.00 290.66,445.00 290.88,445.00 291.09,445.00 291.31,445.00 291.53,445.00 291.75,445.00 291.97,445.00 292.19,445.00 292.41,445.00 292.62,445.00 292.84,445.00 293.06,445.00 293.28,445.00 293.50,445.00 293.72,445.00 293.94,445.00 294.16,445.00 294.38,445.00 294.59,445.00 294.81,445.00 295.03,445.00 295.25,445.00 295.47,445.00 295.69,445.00 295.91,445.00 296.12,445.00 296.34,445.00 296.56,445.00 296.78,445.00 297.00,445.00 297.22,445.00 297.44,445.00 297.66,445.00 297.88,445.00 298.09,445.00 298.31,445.00 298.53,445.00 298.75,445.00 298.97,445.00 299.19,445.00 299.41,445.00 299.62,445.00 299.84,445.00 300.06,445.00 300.28,445.00 300.50,445.00 300.72,445.00 300.94,445.00 301.16,445.00 301.38,445.00 301.59,445.00 301.81,445.00 302.03,445.00 302.25,445.00 302.47,445.00 302.69,445.00 302.91,445.00 303.12,445.00 303.34,445.00 303.56,445.00 303.78,445.00 304.00,445.00 304.22,445.00 304.44,445.00 304.66,445.00 304.88,445.00 305.09,445.00 305.31,445.00 305.53,445.00 305.75,445.00 305.97,445.00 306.19,445.00 306.41,445.00 306.62,445.00 306.84,445.00 307.06,445.00 307.28,445.00 307.50,445.00 307.72,445.00 307.94,445.00 308.16,445.00 308.38,445.00 308.59,445.00 308.81,445.00 309.03,445.00 309.25,445.00 309.47,445.00 309.69,445.00 309.91,445.00 310.12,445.00 310.34,445.00 310.56,445.00 310.78,445.00 311.00,445.00 311.22,445.00 311.44,445.00 311.66,445.00 311.88,445.00 312.09,445.00 312.31,445.00 312.53,445.00 312.75,445.00 312.97,445.00 313.19,445.00 313.41,445.00 313.62,445.00 313.84,445.00 314.06,445.00 314.28,445.00 314.50,445.00 314.72,445.00 314.94,445.00 315.16,445.00 315.38,445.00 315.59,445.00 315.81,445.00 316.03,445.00 316.25,445.00 316.47,445.00 316.69,445.00 316.91,445.00 317.12,445.00 317.34,445.00 317.56,445.00 317.78,445.00 318.00,445.00 318.22,445.00 318.44,445.00 318.66,445.00 318.88,445.00 319.09,445.00 319.31,445.00 319.53,445.00 319.75,445.00 319.97,445.00 320.19,445.00 320.41,445.00 320.62,445.00 320.84,445.00 321.06,445.00 321.28,445.00 321.50,445.00 321.72,445.00 321.94,445.00 322.16,445.00 322.38,445.00 322.59,445.00 322.81,445.00 323.03,445.00 323.25,445.00 323.47,445.00 323.69,445.00 323.91,445.00 324.12,445.00 324.34,445.00 324.56,445.00 324.78,445.00 325.00,445.00 325.22,445.00 325.44,445.00 325.66,445.00 325.88,445.00 326.09,445.00 326.31,445.00 326.53,445.00 326.75,445.00 326.97,445.00 327.19,445.00 327.41,445.00 327.62,445.00 327.84,445.00 328.06,445.00 328.28,445.00 328.50,445.00 328.72,445.00 328.94,445.00 329.16,445.00 329.38,445.00 329.59,445.00 329.81,445.00 330.03,445.00 330.25,445.00 330.47,445.00 330.69,445.00 330.91,445.00 331.12,445.00 331.34,445.00 331.56,445.00 331.78,445.00 332.00,445.00 332.22,445.00 332.44,445.00 332.66,445.00 332.88,445.00 333.09,445.00 333.31,445.00 333.53,445.00 333.75,445.00 333.97,445.00 334.19,445.00 334.41,445.00 334.62,445.00 334.84,445.00 335.06,445.00 335.28,445.00 335.50,445.00 335.72,445.00 335.94,445.00 336.16,445.00 336.38,445.00 336.59,445.00 336.81,445.00 337.03,445.00 337.25,445.00 337.47,445.00 337.69,445.00 337.91,445.00 338.12,445.00 338.34,445.00 338.56,445.00 338.78,445.00 339.00,445.00 339.22,445.00 339.44,445.00 339.66,445.00 339.88,445.00 340.09,445.00 340.31,445.00 340.53,445.00 340.75,445.00 340.97,445.00 341.19,445.00 341.41,445.00 341.62,445.00 341.84,445.00 342.06,445.00 342.28,445.00 342.50,445.00 342.72,445.00 342.94,445.00 343.16,445.00 343.38,445.00 343.59,445.00 343.81,445.00 344.03,445.00 344.25,445.00 344.47,445.00 344.69,445.00 344.91,445.00 345.12,445.00 345.34,445.00 345.56,445.00 345.78,445.00 346.00,445.00 346.22,445.00 346.44,445.00 346.66,445.00 346.88,445.00 347.09,445.00 347.31,445.00 347.53,445.00 347.75,445.00 347.97,445.00 348.19,445.00 348.41,445.00 348.62,445.00 348.84,445.00 349.06,445.00 349.28,445.00 349.50,445.00 349.72,445.00 349.94,445.00 350.16,445.00 350.38,445.00 350.59,445.00 350.81,445.00 351.03,445.00 351.25,445.00 351.47,445.00 351.69,445.00 351.91,445.00 352.12,445.00 352.34,445.00 352.56,445.00 352.78,445.00 353.00,445.00 353.22,445.00 353.44,445.00 353.66,445.00 353.88,445.00 354.09,445.00 354.31,445.00 354.53,445.00 354.75,445.00 354.97,445.00 355.19,445.00 355.41,445.00 355.62,445.00 355.84,445.00 356.06,445.00 356.28,445.00 356.50,445.00 356.72,445.00 356.94,445.00 357.16,445.00 357.38,445.00 357.59,445.00 357.81,445.00 358.03,445.00 358.25,445.00 358.47,445.00 358.69,445.00 358.91,445.00 359.12,445.00 359.34,445.00 359.56,445.00 359.78,445.00 360.00,445.00 360.22,445.00 360.44,445.00 360.66,445.00 360.88,445.00 361.09,445.00 361.31,445.00 361.53,445.00 361.75,445.00 361.97,445.00 362.19,445.00 362.41,445.00 362.62,445.00 362.84,445.00 363.06,445.00 363.28,445.00 363.50,445.00 363.72,445.00 363.94,445.00 364.16,445.00 364.38,445.00 364.59,445.00 364.81,445.00 365.03,445.00 365.25,445.00 365.47,445.00 365.69,445.00 365.91,445.00 366.12,445.00 366.34,445.00 366.56,445.00 366.78,445.00 367.00,445.00 367.22,445.00 367.44,445.00 367.66,445.00 367.88,445.00 368.09,445.00 368.31,445.00 368.53,445.00 368.75,445.00 368.97,445.00 369.19,445.00 369.41,445.00 369.62,445.00 369.84,445.00 370.06,445.00 370.28,445.00 370.50,445.00 370.72,445.00 370.94,445.00 371.16,445.00 371.38,445.00 371.59,445.00 371.81,445.00 372.03,445.00 372.25,445.00 372.47,445.00 372.69,445.00 372.91,445.00 373.12,445.00 373.34,445.00 373.56,445.00 373.78,445.00 374.00,445.00 374.22,445.00 374.44,445.00 374.66,445.00 374.88,445.00 375.09,445.00 375.31,445.00 375.53,445.00 375.75,445.00 375.97,445.00 376.19,445.00 376.41,445.00 376.62,445.00 376.84,445.00 377.06,445.00 377.28,445.00 377.50,445.00 377.72,445.00 377.94,445.00 378.16,445.00 378.38,445.00 378.59,445.00 378.81,445.00 379.03,445.00 379.25,445.00 379.47,445.00 379.69,445.00 379.91,445.00 380.12,445.00 380.34,445.00 380.56,445.00 380.78,445.00 381.00,445.00 381.22,445.00 381.44,445.00 381.66,445.00 381.88,445.00 382.09,445.00 382.31,445.00 382.53,445.00 382.75,445.00 382.97,445.00 383.19,445.00 383.41,445.00 383.62,445.00 383.84,445.00 384.06,445.00 384.28,445.00 384.50,445.00 384.72,445.00 384.94,445.00 385.16,445.00 385.38,445.00 385.59,445.00 385.81,445.00 386.03,445.00 386.25,445.00 386.47,445.00 386.69,445.00 386.91,445.00 387.12,445.00 387.34,445.00 387.56,445.00 387.78,445.00 388.00,445.00 388.22,445.00 388.44,445.00 388.66,445.00 388.88,445.00 389.09,445.00 389.31,445.00 389.53,445.00 389.75,445.00 389.97,445.00 390.19,445.00 390.41,445.00 390.62,445.00 390.84,445.00 391.06,445.00 391.28,445.00 391.50,445.00 391.72,445.00 391.94,445.00 392.16,445.00 392.38,445.00 392.59,445.00 392.81,445.00 393.03,445.00 393.25,445.00 393.47,445.00 393.69,445.00 393.91,445.00 394.12,445.00 394.34,445.00 394.56,445.00 394.78,445.00 395.00,445.00 395.22,445.00 395.44,445.00 395.66,445.00 395.88,445.00 396.09,445.00 396.31,445.00 396.53,445.00 396.75,445.00 396.97,445.00 397.19,445.00 397.41,445.00 397.62,445.00 397.84,445.00 398.06,445.00 398.28,445.00 398.50,445.00 398.72,445.00 398.94,445.00 399.16,445.00 399.38,445.00 399.59,445.00 399.81,445.00 400.03,445.00 400.25,445.00 400.47,445.00 400.69,445.00 400.91,445.00 401.12,445.00 401.34,445.00 401.56,445.00 401.78,445.00 402.00,445.00 402.22,445.00 402.44,445.00 402.66,445.00 402.88,445.00 403.09,445.00 403.31,445.00 403.53,445.00 403.75,445.00 403.97,445.00 404.19,445.00 404.41,445.00 404.62,445.00 404.84,445.00 405.06,445.00 405.28,445.00 405.50,445.00 405.72,445.00 405.94,445.00 406.16,445.00 406.38,445.00 406.59,445.00 406.81,445.00 407.03,445.00 407.25,445.00 407.47,445.00 407.69,445.00 407.91,445.00 408.12,445.00 408.34,445.00 408.56,445.00 408.78,445.00 409.00,445.00 409.22,445.00 409.44,445.00 409.66,445.00 409.88,445.00 410.09,445.00 410.31,445.00 410.53,445.00 410.75,445.00 410.97,445.00 411.19,445.00 411.41,445.00 411.62,445.00 411.84,445.00 412.06,445.00 412.28,445.00 412.50,445.00 412.72,445.00 412.94,445.00 413.16,445.00 413.38,445.00 413.59,445.00 413.81,445.00 414.03,445.00 414.25,445.00 414.47,445.00 414.69,445.00 414.91,445.00 415.12,445.00 415.34,445.00 415.56,445.00 415.78,445.00 416.00,445.00 416.22,445.00 416.44,445.00 416.66,445.00 416.88,445.00 417.09,445.00 417.31,445.00 417.53,445.00 417.75,445.00 417.97,445.00 418.19,445.00 418.41,445.00 418.62,445.00 418.84,445.00 419.06,445.00 419.28,445.00 419.50,445.00 419.72,445.00 419.94,445.00 420.16,445.00 420.38,445.00 420.59,445.00 420.81,445.00 421.03,445.00 421.25,445.00 421.47,445.00 421.69,445.00 421.91,445.00 422.12,445.00 422.34,445.00 422.56,445.00 422.78,445.00 423.00,445.00 423.22,445.00 423.44,445.00 423.66,445.00 423.88,445.00 424.09,445.00 424.31,445.00 424.53,445.00 424.75,445.00 424.97,445.00 425.19,445.00 425.41,445.00 425.62,445.00 425.84,445.00 426.06,445.00 426.28,445.00 426.50,445.00" fill="none" stroke="#FF0000" stroke-width="1.6" stroke-linejoin="round" />
<text x="324.1" y="470.1" font-family="Liberation Serif, serif" font-size="15" fill="#333"><tspan font-style="italic">t</tspan>(ns)</text>
<g transform="translate(243.2,389.7) rotate(-90)"><line x1="0" y1="-10.7" x2="0" y2="1.8" stroke="#555" stroke-width="0.9"/><line x1="19.5" y1="-10.7" x2="19.5" y2="1.8" stroke="#555" stroke-width="0.9"/><line x1="28.9" y1="-10.7" x2="28.9" y2="1.8" stroke="#555" stroke-width="0.9"/><line x1="51" y1="-10.7" x2="51" y2="1.8" stroke="#555" stroke-width="0.9"/><text x="2.2" y="0" font-family="Liberation Serif, serif" font-size="14" font-style="italic" font-weight="bold" fill="#333">m</text><text x="12.8" y="4.6" font-family="Liberation Sans, sans-serif" font-size="7.5" fill="#333">A</text><text x="32.5" y="0" font-family="Liberation Serif, serif" font-size="14" font-style="italic" font-weight="bold" fill="#333">m</text><text x="43.1" y="4.6" font-family="Liberation Sans, sans-serif" font-size="7.5" fill="#333">B</text><text x="21.5" y="0" font-family="Liberation Serif, serif" font-size="14" fill="#222">,</text></g>
<line x1="374.7" y1="290.4" x2="398.4" y2="290.4" stroke="#0072BD" stroke-width="1.6" stroke-dasharray="2.4 1.7"/>
<line x1="373.4" y1="308.9" x2="396.9" y2="308.9" stroke="#FF0000" stroke-width="1.6"/>
<line x1="400.5" y1="283.59999999999997" x2="400.5" y2="296.59999999999997" stroke="#555" stroke-width="0.9"/>
<line x1="420.5" y1="283.59999999999997" x2="420.5" y2="296.59999999999997" stroke="#555" stroke-width="0.9"/>
<text x="402.3" y="293.59999999999997" font-family="Liberation Serif, serif" font-size="13.5" fill="#222">m</text>
<text x="413.0" y="297.79999999999995" font-family="Liberation Sans, sans-serif" font-size="7.5" fill="#333">A</text>
<line x1="400.5" y1="302.09999999999997" x2="400.5" y2="315.09999999999997" stroke="#555" stroke-width="0.9"/>
<line x1="420.5" y1="302.09999999999997" x2="420.5" y2="315.09999999999997" stroke="#555" stroke-width="0.9"/>
<text x="402.3" y="312.09999999999997" font-family="Liberation Serif, serif" font-size="13.5" fill="#222">m</text>
<text x="413.0" y="316.29999999999995" font-family="Liberation Sans, sans-serif" font-size="7.5" fill="#333">B</text>
<text x="452.59999999999997" y="263" font-family="Liberation Sans, sans-serif" font-size="14" fill="#333">(f)</text>
<text x="470.7" y="263" font-family="Liberation Serif, serif" font-weight="bold" font-style="italic" font-size="13" fill="#222" textLength="34.7" lengthAdjust="spacing">chiral</text>
<path d="M473.5,448.5 H648.5 V273.5 H473.5" fill="none" stroke="#828282" stroke-width="1"/>
<line x1="473.5" y1="273.0" x2="473.5" y2="449.0" stroke="#828282" stroke-width="1"/>
<line x1="473.50" y1="448.5" x2="473.50" y2="450.0" stroke="#555" stroke-width="0.9"/>
<line x1="495.38" y1="448.5" x2="495.38" y2="450.0" stroke="#555" stroke-width="0.9"/>
<line x1="517.25" y1="448.5" x2="517.25" y2="450.0" stroke="#555" stroke-width="0.9"/>
<line x1="539.12" y1="448.5" x2="539.12" y2="450.0" stroke="#555" stroke-width="0.9"/>
<line x1="561.00" y1="448.5" x2="561.00" y2="450.0" stroke="#555" stroke-width="0.9"/>
<line x1="582.88" y1="448.5" x2="582.88" y2="450.0" stroke="#555" stroke-width="0.9"/>
<line x1="604.75" y1="448.5" x2="604.75" y2="450.0" stroke="#555" stroke-width="0.9"/>
<line x1="626.62" y1="448.5" x2="626.62" y2="450.0" stroke="#555" stroke-width="0.9"/>
<line x1="648.50" y1="448.5" x2="648.50" y2="450.0" stroke="#555" stroke-width="0.9"/>
<text x="473.10" y="458.5" font-family="Liberation Serif, serif" font-size="9.8" text-anchor="middle" fill="#000" stroke="#000" stroke-width="0.12">0</text>
<text x="516.85" y="458.5" font-family="Liberation Serif, serif" font-size="9.8" text-anchor="middle" fill="#000" stroke="#000" stroke-width="0.12">2</text>
<text x="560.60" y="458.5" font-family="Liberation Serif, serif" font-size="9.8" text-anchor="middle" fill="#000" stroke="#000" stroke-width="0.12">4</text>
<text x="604.35" y="458.5" font-family="Liberation Serif, serif" font-size="9.8" text-anchor="middle" fill="#000" stroke="#000" stroke-width="0.12">6</text>
<text x="648.10" y="458.5" font-family="Liberation Serif, serif" font-size="9.8" text-anchor="middle" fill="#000" stroke="#000" stroke-width="0.12">8</text>
<line x1="473.5" y1="413.50" x2="471.7" y2="413.50" stroke="#999" stroke-width="0.8"/>
<line x1="473.5" y1="378.50" x2="471.7" y2="378.50" stroke="#999" stroke-width="0.8"/>
<line x1="473.5" y1="343.50" x2="471.7" y2="343.50" stroke="#999" stroke-width="0.8"/>
<line x1="473.5" y1="308.50" x2="471.7" y2="308.50" stroke="#999" stroke-width="0.8"/>
<text x="469.4" y="277.5" font-family="Liberation Serif, serif" font-size="10" text-anchor="end" fill="#000" stroke="#000" stroke-width="0.1">1</text>
<text x="471.0" y="451.5" font-family="Liberation Serif, serif" font-size="10" text-anchor="end" fill="#000" stroke="#000" stroke-width="0.1">0</text>
<polyline points="475.10,333.00 475.27,333.98 475.50,335.27 475.77,336.80 476.07,338.51 476.39,340.35 476.71,342.25 477.01,344.15 477.30,346.00 477.57,347.84 477.83,349.75 478.09,351.72 478.35,353.72 478.61,355.74 478.87,357.78 479.13,359.80 479.40,361.80 479.67,363.83 479.95,365.92 480.24,368.05 480.52,370.16 480.80,372.22 481.08,374.19 481.34,376.03 481.60,377.70 481.84,379.21 482.08,380.59 482.30,381.85 482.53,383.02 482.74,384.10 482.96,385.12 483.18,386.08 483.40,387.00 483.62,387.86 483.84,388.63 484.06,389.32 484.27,389.96 484.50,390.55 484.72,391.11 484.96,391.65 485.20,392.20 485.45,392.77 485.69,393.35 485.93,393.92 486.19,394.46 486.45,394.94 486.74,395.34 487.06,395.63 487.40,395.80 487.78,395.80 488.20,395.65 488.65,395.39 489.11,395.05 489.59,394.67 490.07,394.30 490.54,393.96 491.00,393.70 491.45,393.49 491.88,393.29 492.32,393.09 492.76,392.91 493.20,392.76 493.65,392.63 494.12,392.54 494.60,392.50 495.10,392.52 495.63,392.60 496.16,392.73 496.71,392.89 497.26,393.05 497.81,393.20 498.36,393.33 498.90,393.40 499.44,393.44 499.99,393.46 500.54,393.47 501.09,393.46 501.64,393.43 502.17,393.38 502.70,393.30 503.20,393.20 503.69,393.07 504.17,392.92 504.63,392.76 505.09,392.56 505.53,392.34 505.97,392.09 506.39,391.81 506.80,391.50 507.20,391.14 507.60,390.74 508.00,390.30 508.38,389.84 508.74,389.36 509.08,388.87 509.40,388.38 509.70,387.90 509.96,387.43 510.18,386.95 510.38,386.47 510.56,385.98 510.73,385.49 510.90,385.00 511.09,384.50 511.30,384.00 511.52,383.48 511.75,382.93 511.98,382.37 512.22,381.81 512.47,381.27 512.73,380.76 513.00,380.30 513.30,379.90 513.61,379.56 513.94,379.28 514.28,379.03 514.64,378.82 515.01,378.64 515.39,378.48 515.79,378.34 516.20,378.20 516.66,378.08 517.18,377.98 517.73,377.90 518.28,377.84 518.81,377.80 519.30,377.76 519.70,377.73 520.00,377.70 648.50,377.70" fill="none" stroke="#0072BD" stroke-width="1.8" stroke-dasharray="2.5 1.75" stroke-linejoin="round" />
<polyline points="473.50,273.50 473.53,276.87 473.57,281.21 473.61,286.34 473.66,292.10 473.71,298.31 473.77,304.80 473.83,311.38 473.89,317.89 473.94,324.16 474.00,330.00 474.05,335.71 474.10,341.63 474.15,347.66 474.20,353.71 474.26,359.68 474.31,365.48 474.37,371.00 474.44,376.16 474.52,380.86 474.60,385.00 474.69,388.49 474.80,391.39 474.91,393.80 475.02,395.83 475.14,397.61 475.27,399.25 475.40,400.85 475.53,402.53 475.67,404.41 475.80,406.60 475.94,409.07 476.08,411.69 476.23,414.42 476.38,417.20 476.54,420.00 476.69,422.77 476.85,425.46 477.00,428.02 477.15,430.42 477.30,432.60 477.45,434.63 477.61,436.57 477.77,438.43 477.93,440.19 478.09,441.83 478.25,443.33 478.39,444.70 478.51,445.91 478.62,446.94 478.70,447.80 478.78,447.55 478.88,447.21 479.00,446.82 479.13,446.37 479.28,445.90 479.43,445.41 479.61,444.92 479.79,444.44 479.99,444.00 480.20,443.60 480.42,443.22 480.64,442.83 480.87,442.43 481.12,442.04 481.38,441.67 481.65,441.32 481.95,441.01 482.27,440.75 482.62,440.54 483.00,440.40 483.41,440.34 483.84,440.37 484.30,440.46 484.79,440.61 485.29,440.78 485.82,440.97 486.37,441.15 486.93,441.31 487.51,441.44 488.10,441.50 488.68,441.51 489.24,441.49 489.78,441.45 490.34,441.39 490.93,441.32 491.57,441.24 492.28,441.16 493.07,441.09 493.97,441.04 495.00,441.00 496.24,440.98 497.72,440.97 499.38,440.96 501.14,440.96 502.93,440.97 504.69,440.98 506.35,440.98 507.83,440.99 509.07,441.00 510.00,441.00 648.50,441.00" fill="none" stroke="#FF0000" stroke-width="1.6" stroke-linejoin="round" />
<text x="545.2" y="469.4" font-family="Liberation Serif, serif" font-size="15" fill="#333"><tspan font-style="italic">t</tspan>(ns)</text>
<g transform="translate(464.6,390.6) rotate(-90)"><line x1="0" y1="-10.7" x2="0" y2="1.8" stroke="#555" stroke-width="0.9"/><line x1="19.5" y1="-10.7" x2="19.5" y2="1.8" stroke="#555" stroke-width="0.9"/><line x1="28.9" y1="-10.7" x2="28.9" y2="1.8" stroke="#555" stroke-width="0.9"/><line x1="51" y1="-10.7" x2="51" y2="1.8" stroke="#555" stroke-width="0.9"/><text x="2.2" y="0" font-family="Liberation Serif, serif" font-size="14" font-style="italic" font-weight="bold" fill="#333">m</text><text x="12.8" y="4.6" font-family="Liberation Sans, sans-serif" font-size="7.5" fill="#333">A</text><text x="32.5" y="0" font-family="Liberation Serif, serif" font-size="14" font-style="italic" font-weight="bold" fill="#333">m</text><text x="43.1" y="4.6" font-family="Liberation Sans, sans-serif" font-size="7.5" fill="#333">B</text><text x="21.5" y="0" font-family="Liberation Serif, serif" font-size="14" fill="#222">,</text></g>
<line x1="597.3" y1="287.8" x2="621" y2="287.8" stroke="#0072BD" stroke-width="1.6" stroke-dasharray="2.4 1.7"/>
<line x1="596" y1="306" x2="619.5" y2="306" stroke="#FF0000" stroke-width="1.6"/>
<line x1="623.5" y1="281.0" x2="623.5" y2="294.0" stroke="#555" stroke-width="0.9"/>
<line x1="642.5" y1="281.0" x2="642.5" y2="294.0" stroke="#555" stroke-width="0.9"/>
<text x="624.9" y="291.0" font-family="Liberation Serif, serif" font-size="13.5" fill="#222">m</text>
<text x="635.4" y="295.2" font-family="Liberation Sans, sans-serif" font-size="7.5" fill="#333">A</text>
<line x1="623.5" y1="299.2" x2="623.5" y2="312.2" stroke="#555" stroke-width="0.9"/>
<line x1="642.5" y1="299.2" x2="642.5" y2="312.2" stroke="#555" stroke-width="0.9"/>
<text x="624.9" y="309.2" font-family="Liberation Serif, serif" font-size="13.5" fill="#222">m</text>
<text x="635.4" y="313.4" font-family="Liberation Sans, sans-serif" font-size="7.5" fill="#333">B</text>
</svg>
</body></html>
